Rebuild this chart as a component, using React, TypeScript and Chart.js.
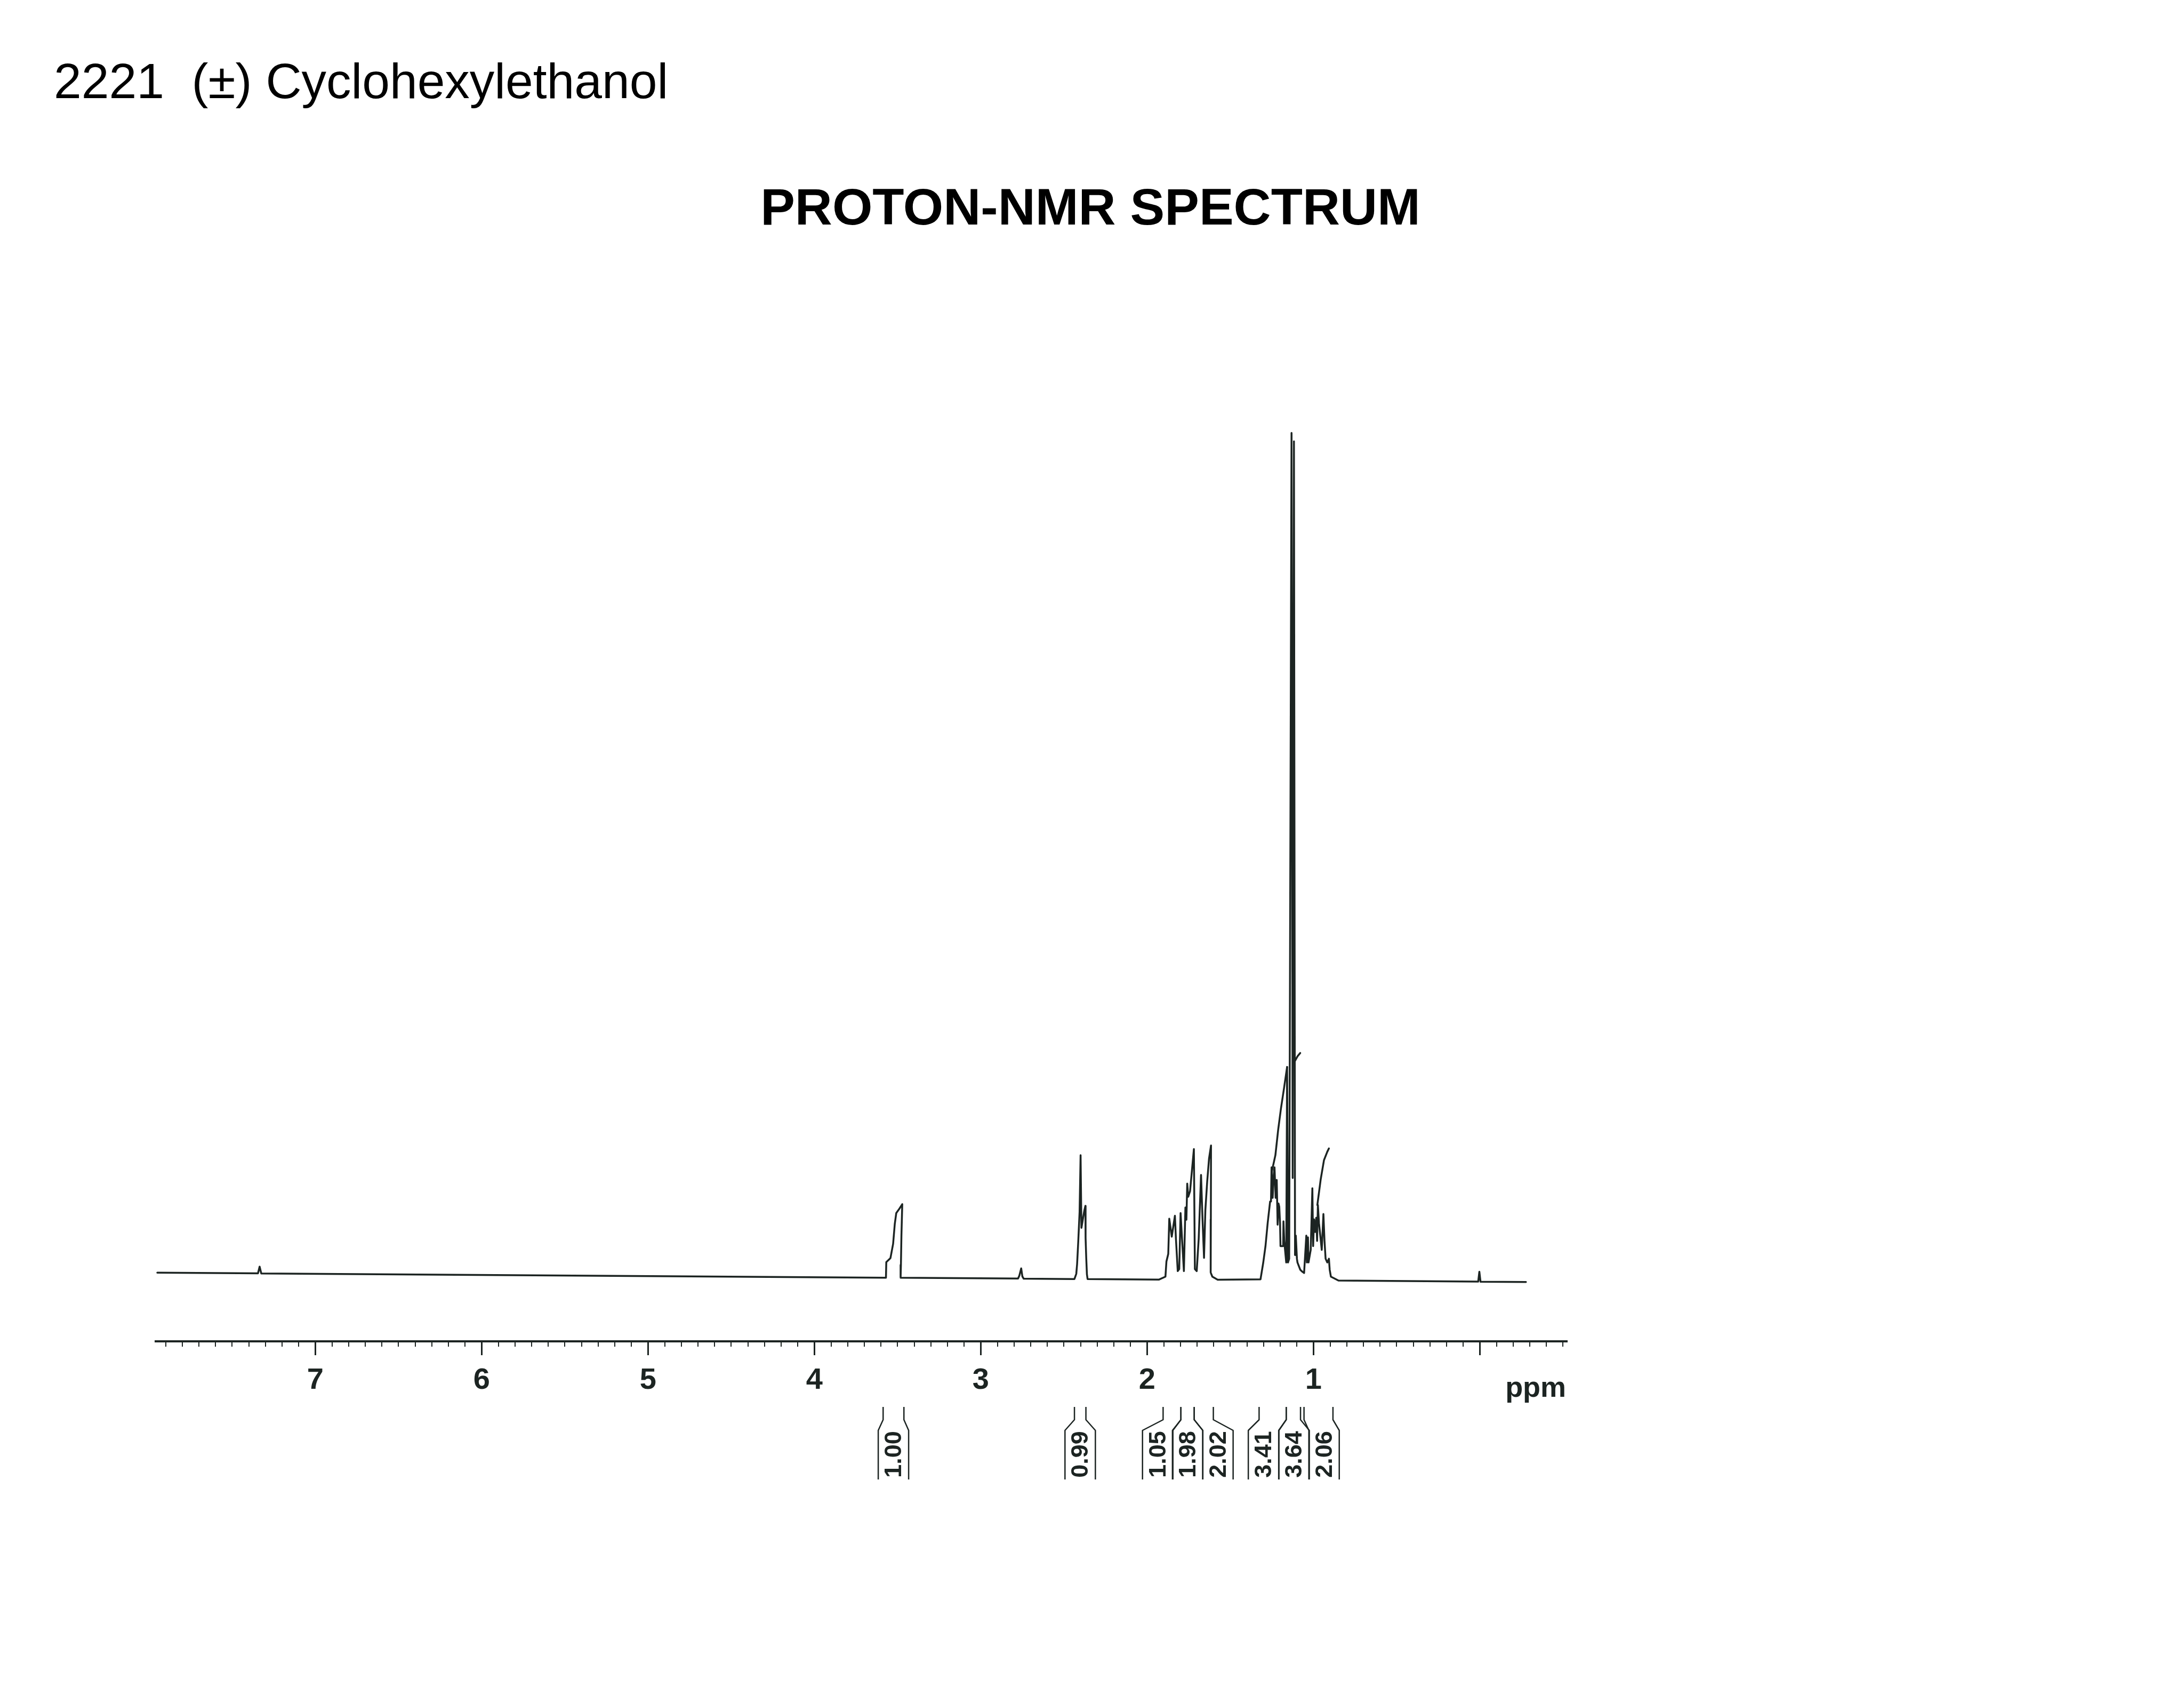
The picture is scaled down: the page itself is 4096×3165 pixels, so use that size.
import React, { useEffect, useRef } from 'react';
import { Chart, registerables } from 'chart.js';

Chart.register(...registerables);

// ---------------- texts ----------------
const fileTitle = '2221  (\u00b1) Cyclohexylethanol';
const chartTitle = 'PROTON-NMR SPECTRUM';
const axisUnit = 'ppm';

// ---------------- spectrum trace (ppm, % of tallest line) ----------------
const spectrumPpm = [
  7.950, 7.345, 7.335, 7.325,
  3.575, 3.570, 3.568, 3.543, 3.527, 3.517, 3.508, 3.488, 3.472, 3.477, 3.480, 3.482,
  2.776, 2.768, 2.757, 2.750, 2.742,
  2.437, 2.426, 2.421, 2.414, 2.406, 2.400, 2.395, 2.389, 2.378, 2.371, 2.370, 2.366, 2.362, 2.358,
  1.930, 1.890, 1.884, 1.873, 1.867, 1.852, 1.833, 1.827, 1.816, 1.807, 1.799, 1.787, 1.779, 1.770,
  1.764, 1.759, 1.753, 1.742, 1.719, 1.713, 1.702, 1.690, 1.676, 1.667, 1.658, 1.650, 1.639, 1.628,
  1.616, 1.617, 1.618, 1.608, 1.576,
  1.3185, 1.3019, 1.2886, 1.2754, 1.2608, 1.2555, 1.2522, 1.2455, 1.2389, 1.2343, 1.2276, 1.2210,
  1.2157, 1.2104, 1.2057, 1.2011, 1.1984, 1.1825, 1.1805, 1.1759, 1.1640, 1.1586, 1.1533, 1.1461,
  1.1320, 1.1250, 1.1175, 1.1109, 1.1063, 1.0996, 1.0963, 1.0797, 1.0698, 1.0565, 1.0432, 1.0399,
  1.0333, 1.0300, 1.0167, 1.0068, 1.0021, 0.9968, 0.9902, 0.9835, 0.9783, 0.9736, 0.9670, 0.9504,
  0.9404, 0.9338, 0.9272, 0.9172, 0.9073, 0.9026, 0.8953, 0.8500,
  0.010, 0.003, -0.004, -0.277,
];
const spectrumIntensity = [
  0.59, 0.51, 1.30, 0.50,
  0.00, 0.00, 1.84, 2.31, 4.00, 6.35, 7.65, 8.20, 8.70, 5.00, 1.50, 0.00,
  -0.10, 0.25, 1.10, 0.15, -0.12,
  -0.16, 0.45, 1.60, 4.30, 7.80, 14.50, 5.90, 6.60, 7.90, 8.50, 4.70, 2.30, 0.40, -0.16,
  -0.23, 0.12, 1.92, 2.82, 6.98, 4.86, 7.33, 4.63, 0.78, 1.02, 7.65, 3.49, 0.78, 8.31,
  6.86, 11.14, 9.57, 10.24, 15.22, 1.02, 0.78, 4.63, 12.16, 6.86, 2.35, 8.00, 11.37, 14.08,
  15.65, 6.90, 0.60, 0.12, -0.25,
  -0.20, 1.80, 3.73, 6.47, 9.02, 9.02, 13.06, 9.45, 12.20, 13.06, 9.45, 11.57,
  6.27, 8.78, 8.39, 6.47, 3.73, 3.73, 6.67, 4.35, 1.80, 24.94, 1.80, 2.24,
  100.0, 11.80, 99.00, 2.67, 4.98, 2.24, 1.80, 0.94, 0.75, 0.55, 4.98, 1.80,
  4.78, 1.80, 3.29, 10.59, 3.73, 6.90, 5.41, 7.10, 4.35, 8.59, 6.47, 3.29,
  7.53, 4.35, 2.24, 1.80, 2.24, 0.94, 0.12, -0.34,
  -0.47, 0.70, -0.48, -0.51,
];

// ---------------- integral curve pieces ----------------
const integralCurvePpm = [
  [1.2522, 1.2290, 1.2124, 1.1958, 1.1759, 1.1586],
  [1.1129, 1.0963, 1.0797],
  [0.9769, 0.9570, 0.9371, 0.9172, 0.9073],
];
const integralCurveIntensity = [
  [12.4, 14.5, 17.5, 20.0, 22.6, 24.94],
  [25.6, 26.2, 26.6],
  [8.6, 11.6, 13.9, 14.9, 15.3],
];

// ---------------- integration labels ----------------
const integralLabels = ['1.00', '0.99', '1.05', '1.98', '2.02', '3.41', '3.64', '2.06'];
const integralFromPpm = [3.587, 2.437, 1.904, 1.797, 1.717, 1.327, 1.164, 1.057];
const integralToPpm = [3.462, 2.368, 1.797, 1.717, 1.602, 1.164, 1.078, 0.883];
const integralBoxCenterPpm = [3.525, 2.4025, 1.9365, 1.7565, 1.5745, 1.3005, 1.1165, 0.9365];

// ---------------- axis ticks ----------------
const majorTickValues = [7, 6, 5, 4, 3, 2, 1, 0];
const majorTickLabels = ['7', '6', '5', '4', '3', '2', '1', ''];
const minorTickFrom = -0.5;
const minorTickTo = 7.9;
const minorTickStep = 0.1;
const unitLabelPpm = -0.153;

// ---------------- layout / style ----------------
const W = 4096;
const H = 3165;
const FONT = "'Liberation Sans', Arial, Helvetica, sans-serif";
const INK = '#1c2422';
const X_MIN = -0.525;
const X_MAX = 7.96;
const Y_MIN = -12;
const Y_MAX = 101;
const AXIS_AT = -7.52;

const minorTickValues: number[] = [];
for (let i = 0; ; i++) {
  const v = Math.round((minorTickFrom + i * minorTickStep) * 10) / 10;
  if (v > minorTickTo + 1e-9) break;
  minorTickValues.push(v);
}

const overlayPlugin = {
  id: 'nmrOverlay',
  afterDraw(chart: any) {
    const ctx: CanvasRenderingContext2D = chart.ctx;
    const xs = chart.scales.x;
    ctx.save();
    // titles
    ctx.fillStyle = '#000';
    ctx.textBaseline = 'alphabetic';
    ctx.textAlign = 'left';
    ctx.font = `93px ${FONT}`;
    ctx.fillText(fileTitle, 101, 184);
    ctx.font = `bold 97px ${FONT}`;
    ctx.textAlign = 'center';
    ctx.fillText(chartTitle, 2045, 421);
    // unit
    ctx.fillStyle = INK;
    ctx.font = `bold 54px ${FONT}`;
    ctx.textAlign = 'left';
    ctx.fillText(axisUnit, xs.getPixelForValue(unitLabelPpm), 2619);
    // integration brackets
    const yTop = 2638;
    const yFlare = 2662;
    const yBoxTop = 2682;
    const yBoxBot = 2774;
    const halfW = 28.5;
    ctx.strokeStyle = INK;
    ctx.lineWidth = 2.5;
    ctx.lineJoin = 'round';
    ctx.font = `bold 45px ${FONT}`;
    ctx.textAlign = 'center';
    ctx.textBaseline = 'middle';
    for (let i = 0; i < integralLabels.length; i++) {
      const xf = xs.getPixelForValue(integralFromPpm[i]);
      const xt = xs.getPixelForValue(integralToPpm[i]);
      const xc = xs.getPixelForValue(integralBoxCenterPpm[i]);
      const xl = xc - halfW;
      const xr = xc + halfW;
      ctx.beginPath();
      ctx.moveTo(xf, yTop);
      ctx.lineTo(xf, yFlare);
      ctx.lineTo(xl, yBoxTop);
      ctx.lineTo(xl, yBoxBot);
      ctx.moveTo(xt, yTop);
      ctx.lineTo(xt, yFlare);
      ctx.lineTo(xr, yBoxTop);
      ctx.lineTo(xr, yBoxBot);
      ctx.stroke();
      ctx.save();
      ctx.translate(xc + 2, 2727);
      ctx.rotate(-Math.PI / 2);
      ctx.fillText(integralLabels[i], 0, 0);
      ctx.restore();
    }
    ctx.restore();
  },
};

export default function App() {
  const ref = useRef<HTMLCanvasElement>(null);
  useEffect(() => {
    if (!ref.current) return;
    const lineStyle = {
      borderColor: INK,
      borderWidth: 3.5,
      pointRadius: 0,
      tension: 0,
      borderJoinStyle: 'round' as const,
      borderCapStyle: 'round' as const,
      fill: false,
    };
    const datasets: any[] = [
      {
        label: 'spectrum',
        data: spectrumPpm.map((x, i) => ({ x, y: spectrumIntensity[i] })),
        ...lineStyle,
      },
      ...integralCurvePpm.map((seg, s) => ({
        label: 'integral ' + (s + 1),
        data: seg.map((x, i) => ({ x, y: integralCurveIntensity[s][i] })),
        ...lineStyle,
      })),
    ];
    const chart = new Chart(ref.current, {
      type: 'line',
      data: { datasets },
      options: {
        responsive: false,
        animation: false,
        devicePixelRatio: 1,
        events: [],
        layout: { padding: { left: 291.9, right: 1156.8, top: 795.9, bottom: 579.3 } },
        plugins: { legend: { display: false }, tooltip: { enabled: false }, title: { display: false } },
        scales: {
          x: {
            type: 'linear',
            min: X_MIN,
            max: X_MAX,
            reverse: true,
            position: { y: AXIS_AT } as any,
            afterBuildTicks: (axis: any) => {
              axis.ticks = minorTickValues.map((v) => ({ value: v }));
            },
            ticks: { display: false },
            grid: { display: true, drawOnChartArea: false, drawTicks: true, tickLength: 8, lineWidth: 2, color: INK },
            border: { display: true, width: 4, color: INK },
          },
          x2: {
            type: 'linear',
            min: X_MIN,
            max: X_MAX,
            reverse: true,
            position: { y: AXIS_AT } as any,
            afterBuildTicks: (axis: any) => {
              axis.ticks = majorTickValues.map((v) => ({ value: v }));
            },
            ticks: {
              autoSkip: false,
              maxRotation: 0,
              minRotation: 0,
              padding: 14,
              color: INK,
              font: { family: FONT, size: 56, weight: 'bold' },
              callback: (value: any) => {
                const k = majorTickValues.indexOf(Number(value));
                return k >= 0 ? majorTickLabels[k] : '';
              },
            },
            grid: { display: true, drawOnChartArea: false, drawTicks: true, tickLength: 26, lineWidth: 3, color: INK },
            border: { display: false },
          },
          y: { type: 'linear', min: Y_MIN, max: Y_MAX, display: false },
        },
      } as any,
      plugins: [overlayPlugin],
    });
    return () => chart.destroy();
  }, []);
  return (
    <div style={{ position: 'absolute', left: 0, top: 0, width: W, height: H, background: '#fff' }}>
      <canvas ref={ref} width={W} height={H} style={{ display: 'block', width: W, height: H }} />
    </div>
  );
}
